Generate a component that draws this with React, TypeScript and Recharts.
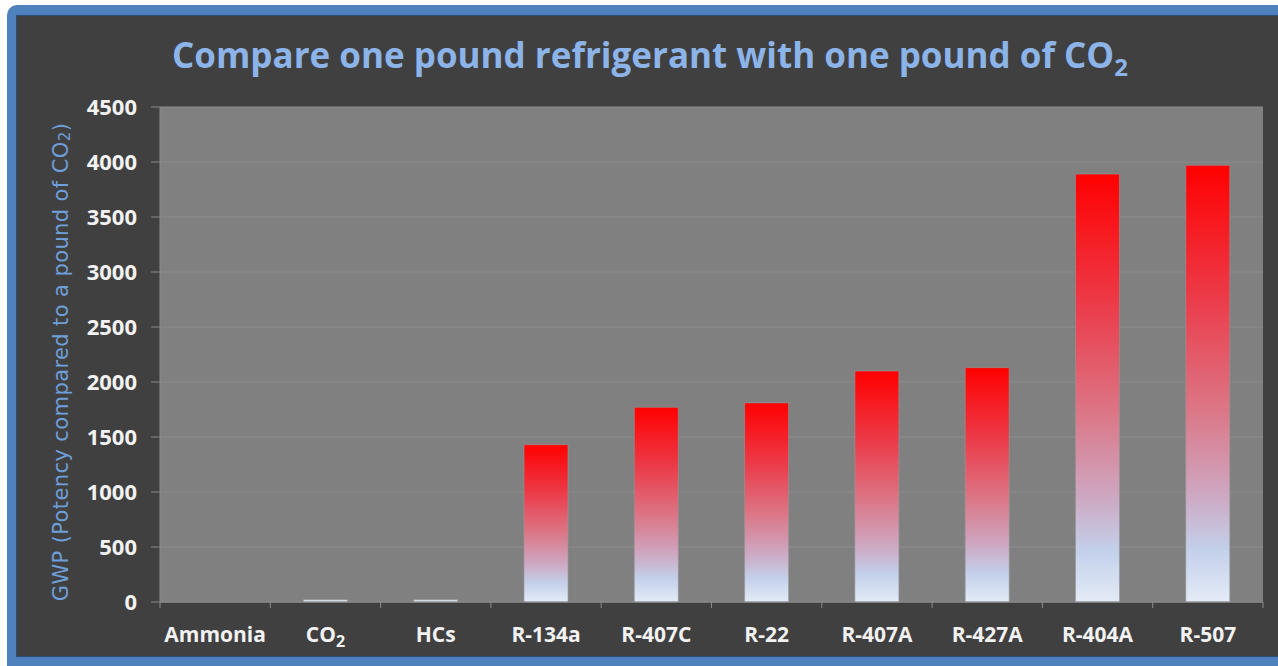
import { BarChart, Bar, XAxis, YAxis, CartesianGrid, Cell, Label } from 'recharts';

const categories = ['Ammonia', 'CO2', 'HCs', 'R-134a', 'R-407C', 'R-22', 'R-407A', 'R-427A', 'R-404A', 'R-507'];
const gwpValues = [0, 20, 20, 1430, 1770, 1810, 2100, 2130, 3890, 3970];
const yTicks = [0, 500, 1000, 1500, 2000, 2500, 3000, 3500, 4000, 4500];

const data = categories.map((name, i) => ({ name, gwp: gwpValues[i] }));

const AXIS_COLOR = '#8a8a8a';

// Excel-style category axis: tick marks sit between categories, not under them
function CategoryTick(props: any) {
  const { x, y, payload, index, width, visibleTicksCount } = props;
  const band = width / visibleTicksCount;
  const label = String(payload.value);
  return (
    <g>
      <line x1={x - band / 2} x2={x - band / 2} y1={y} y2={y + 6} stroke={AXIS_COLOR} />
      {index === visibleTicksCount - 1 && (
        <line x1={x + band / 2} x2={x + band / 2} y1={y} y2={y + 6} stroke={AXIS_COLOR} />
      )}
      <text
        x={x}
        y={y + 40}
        textAnchor="middle"
        fill="#f2f2f2"
        fontFamily="'Open Sans', sans-serif"
        fontWeight="bold"
        fontSize={21}
      >
        {label === 'CO2' ? (
          <>
            CO<tspan dy={5} fontSize={16}>2</tspan>
          </>
        ) : (
          label
        )}
      </text>
    </g>
  );
}

function YTitle() {
  const cx = 61;
  const cy = 362;
  return (
    <text
      x={cx}
      y={cy}
      transform={`rotate(-90 ${cx} ${cy})`}
      textAnchor="middle"
      dominantBaseline="central"
      fill="#6f9fd8"
      fontFamily="'DejaVu Sans', sans-serif"
      fontSize={21}
      letterSpacing={0.4}
    >
      GWP (Potency compared to a pound of CO<tspan dy={4} fontSize={15}>2</tspan>
      <tspan dy={-4}>)</tspan>
    </text>
  );
}

export default function App() {
  return (
    <div style={{ position: 'absolute', left: 0, top: 0, width: 1278, height: 666, background: '#fff', overflow: 'hidden' }}>
      <div
        style={{
          position: 'absolute',
          left: 7,
          top: 5,
          width: 1271,
          height: 661,
          background: '#4f81bd',
          borderTopLeftRadius: 10,
        }}
      />
      <div
        style={{
          position: 'absolute',
          left: 16,
          top: 15,
          width: 1262,
          height: 642,
          boxSizing: 'border-box',
          background: '#404040',
          borderTop: '1px solid #2c4d78',
          borderLeft: '1px solid #2c4d78',
          borderBottom: '1px solid #2c4d78',
        }}
      />
      <div
        style={{
          position: 'absolute',
          left: 0,
          top: 32,
          width: 1300,
          textAlign: 'center',
          color: '#8cb4e8',
          fontFamily: "'Open Sans', sans-serif",
          fontWeight: 'bold',
          fontSize: 35,
          lineHeight: '46px',
          whiteSpace: 'nowrap',
        }}
      >
        Compare one pound refrigerant with one pound of CO
        <span style={{ fontSize: 24, position: 'relative', top: 8 }}>2</span>
      </div>
      <div style={{ position: 'absolute', left: 0, top: 0 }}>
        <BarChart
          width={1278}
          height={666}
          data={data}
          margin={{ top: 107, right: 15, bottom: 34, left: 60 }}
          barCategoryGap="30%"
        >
          <defs>
            <linearGradient id="gwpFill" x1="0" y1="0" x2="0" y2="1">
              <stop offset="0%" stopColor="#ff0000" />
              <stop offset="30%" stopColor="#ec3a48" />
              <stop offset="55%" stopColor="#dc7484" />
              <stop offset="75%" stopColor="#cea6c0" />
              <stop offset="88%" stopColor="#c3d0ea" />
              <stop offset="100%" stopColor="#e4ebf7" />
            </linearGradient>
          </defs>
          <CartesianGrid vertical={false} stroke="#8c8c8c" fill="#808080" />
          <XAxis
            dataKey="name"
            height={30}
            tickLine={false}
            tickSize={0}
            tickMargin={0}
            axisLine={{ stroke: AXIS_COLOR }}
            tick={<CategoryTick />}
            interval={0}
          />
          <YAxis
            width={100}
            domain={[0, 4500]}
            ticks={yTicks}
            interval={0}
            tickSize={9}
            tickMargin={14}
            tickLine={{ stroke: AXIS_COLOR }}
            axisLine={{ stroke: AXIS_COLOR }}
            tick={{ fill: '#f2f2f2', fontFamily: "'Open Sans', sans-serif", fontWeight: 'bold', fontSize: 22 }}
          >
            <Label content={<YTitle />} />
          </YAxis>
          <Bar dataKey="gwp" fill="url(#gwpFill)" stroke="rgba(150,150,150,0.6)" isAnimationActive={false}>
            {data.map((d, i) => (
              <Cell key={`cell-${i}`} fill={d.gwp < 100 ? '#dfe7f3' : 'url(#gwpFill)'} />
            ))}
          </Bar>
        </BarChart>
      </div>
    </div>
  );
}
